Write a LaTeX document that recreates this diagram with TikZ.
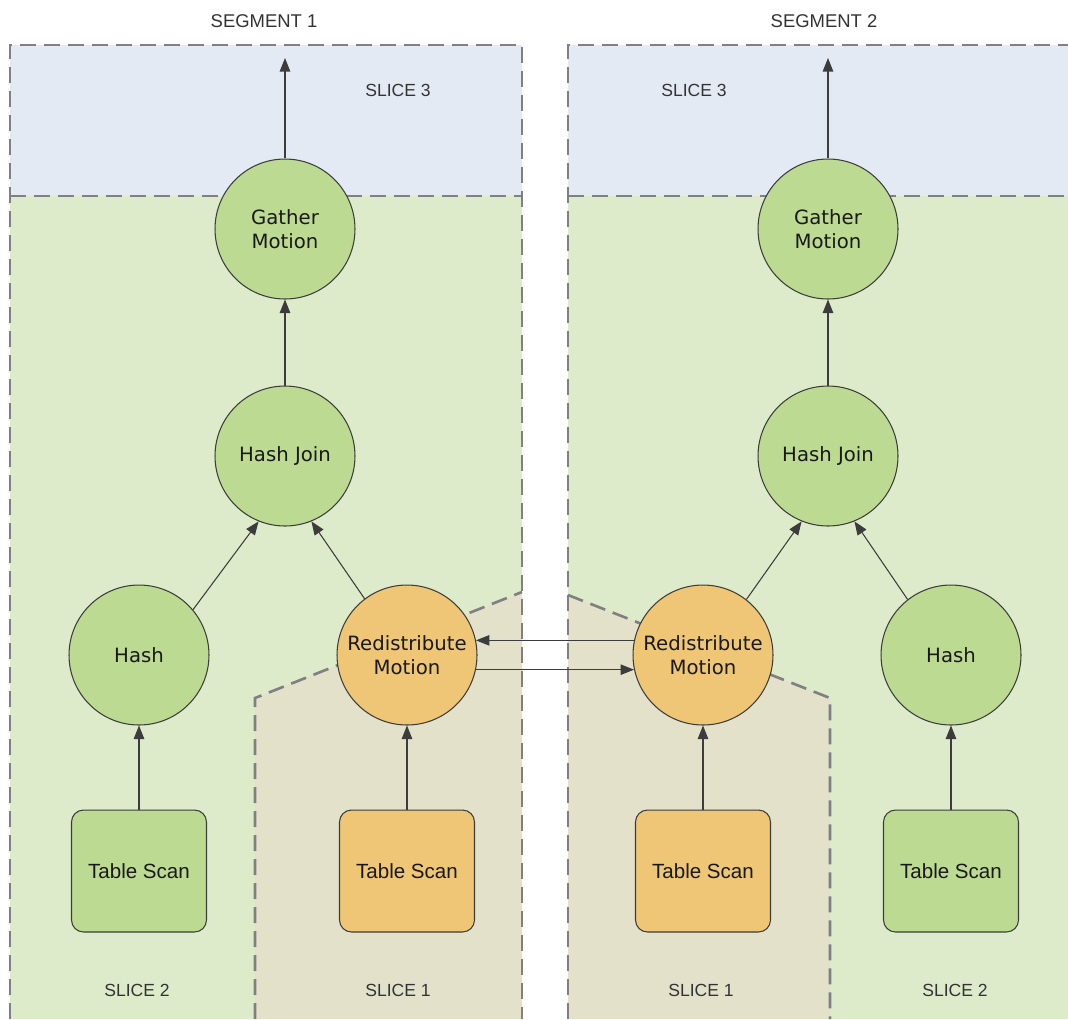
\documentclass[tikz,border=0pt]{standalone}
\usepackage{fontspec}
\setmainfont{Liberation Sans}
\newfontfamily\opfont{DejaVu Sans}
\usetikzlibrary{arrows.meta}

\definecolor{sliceblue}{HTML}{E4EAF4}
\definecolor{slicegreen}{HTML}{DDEBCA}
\definecolor{slicebeige}{HTML}{E4E1CB}
\definecolor{opgreen}{HTML}{BDDA92}
\definecolor{oporange}{HTML}{EEC676}
\definecolor{boundgray}{HTML}{808080}
\definecolor{linegray}{HTML}{3C3C3C}

\begin{document}
\begin{tikzpicture}[x=0.02cm, y=-0.02cm,
    op/.style={circle, draw=linegray, line width=0.6pt, minimum size=2.8cm, inner sep=0pt,
               align=center, text=black!90, font=\opfont\fontsize{11.2}{13.8}\selectfont},
    scan/.style={rectangle, rounded corners=0.24cm, draw=linegray, line width=0.6pt,
                 minimum width=2.7cm, minimum height=2.44cm, text=black!90,
                 font=\fontsize{11.7}{14}\selectfont},
    bound/.style={draw=boundgray, line width=1.5pt, dash pattern=on 0.32cm off 0.16cm},
    flow/.style={draw=linegray, line width=0.6pt, -{Triangle[length=0.27cm, width=0.21cm]}},
    tag/.style={text=black!80, font=\fontsize{10}{12}\selectfont}]

        \useasboundingbox (0,0) rectangle (1068,1019);

        %Segment 1 slices
        \fill [slicegreen]  (10,196) rectangle (522,1019);
        \fill [sliceblue]   (10,45)  rectangle (522,196);
        \fill [slicebeige]  (255,1019) -- (255,698) -- (522,592) -- (522,1019) -- cycle;
        \draw [bound]       (10,1019) -- (10,45) -- (522,45) -- (522,1019);
        \draw [bound]       (10,196)  -- (522,196);
        \draw [bound]       (255,1019) -- (255,698) -- (522,592);

        %Segment 2 slices
        \fill [slicegreen]  (568,196) rectangle (1068,1019);
        \fill [sliceblue]   (568,45)  rectangle (1068,196);
        \fill [slicebeige]  (568,1019) -- (568,595) -- (830,698) -- (830,1019) -- cycle;
        \draw [bound]       (568,1019) -- (568,45) -- (1068,45);
        \draw [bound]       (568,196)  -- (1068,196);
        \draw [bound]       (568,595)  -- (830,698) -- (830,1019);

        %Labels
        \node [tag, font=\fontsize{10.5}{12}\selectfont] (seg1) at (264,21) {SEGMENT 1};
        \node [tag, font=\fontsize{10.5}{12}\selectfont] (seg2) at (824,21) {SEGMENT 2};
        \node [tag] (slice3a) at (398,90)  {SLICE 3};
        \node [tag] (slice3b) at (694,90)  {SLICE 3};
        \node [tag] (slice2a) at (137,990) {SLICE 2};
        \node [tag] (slice1a) at (398,990) {SLICE 1};
        \node [tag] (slice1b) at (701,990) {SLICE 1};
        \node [tag] (slice2b) at (955,990) {SLICE 2};

        %Segment 1 plan
        \node [op, fill=opgreen]    (gather1) at (285,229) {Gather\\Motion};
        \node [op, fill=opgreen]    (join1)   at (285,456) {Hash Join};
        \node [op, fill=opgreen]    (hash1)   at (139,655) {Hash};
        \node [op, fill=oporange]   (redist1) at (407,655) {Redistribute\\Motion};
        \node [scan, fill=opgreen]  (scan1)   at (139,871) {Table Scan};
        \node [scan, fill=oporange] (scan2)   at (407,871) {Table Scan};
        \coordinate (out1) at (285,58);

        %Segment 2 plan
        \node [op, fill=opgreen]    (gather2) at (828,229) {Gather\\Motion};
        \node [op, fill=opgreen]    (join2)   at (828,456) {Hash Join};
        \node [op, fill=oporange]   (redist2) at (703,655) {Redistribute\\Motion};
        \node [op, fill=opgreen]    (hash2)   at (951,655) {Hash};
        \node [scan, fill=oporange] (scan3)   at (703,871) {Table Scan};
        \node [scan, fill=opgreen]  (scan4)   at (951,871) {Table Scan};
        \coordinate (out2) at (828,58);

        %Data flow
        \draw [flow] (gather1)      -- (out1);
        \draw [flow] (join1)        -- (gather1);
        \draw [flow] (hash1.40)     -- (join1.248);
        \draw [flow] (redist1.127)  -- (join1.292);
        \draw [flow] (scan1)        -- (hash1);
        \draw [flow] (scan2)        -- (redist1);

        \draw [flow] (gather2)      -- (out2);
        \draw [flow] (join2)        -- (gather2);
        \draw [flow] (redist2.52)   -- (join2.248);
        \draw [flow] (hash2.128)    -- (join2.292);
        \draw [flow] (scan3)        -- (redist2);
        \draw [flow] (scan4)        -- (hash2);

        %Redistribution between segments
        \draw [flow] (redist2.168)  -- (redist1.12);
        \draw [flow] (redist1.-12)  -- (redist2.-168);

\end{tikzpicture}
\end{document}
